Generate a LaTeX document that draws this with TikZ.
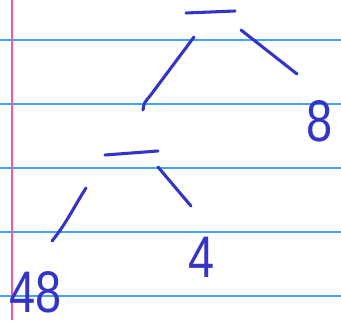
\documentclass[tikz,border=0pt]{standalone}
\usepackage{fontspec}
\setmainfont{Liberation Sans}
\definecolor{ink}{HTML}{3434C6}
\definecolor{rule}{HTML}{3FA2FF}
\definecolor{margin}{HTML}{F4579F}

\begin{document}
\begin{tikzpicture}[
			x=0.75pt, y=-0.75pt,
			ruling/.style={rule, line width=1.1pt},
			stroke/.style={ink, line width=2.3pt, line cap=round},
			digit/.style={ink, inner sep=0pt, xscale=0.8, transform shape,
				font=\fontsize{44}{44}\selectfont}
			]
			
			\useasboundingbox (0,0) rectangle (341,320);
			
			% Paper
			\foreach \y in {40,104,168,232,296}
				\draw[ruling] (0,\y) -- (341,\y);
			\draw[margin, line width=1.5pt] (12,0) -- (12,320);
			
			% Blanks
			\coordinate (topA) at (186,13);
			\coordinate (topB) at (235,11);
			\coordinate (midA) at (105,155);
			\coordinate (midB) at (158,151);
			\draw[stroke] (topA) -- (topB);
			\draw[stroke] (midA) -- (midB);
			
			% Numbers
			\node[digit] (eight) at (320,121) {8};
			\node[digit] (four) at (202,257) {4};
			\node[digit] (fortyeight) at (36,292) {48};
			
			% Branches
			\coordinate (tl1) at (194,37);
			\coordinate (tl2) at (143,110);
			\coordinate (tr1) at (241,30);
			\coordinate (tr2) at (297,74);
			\coordinate (ml1) at (86,188);
			\coordinate (ml2) at (52,241);
			\coordinate (mr1) at (158,167);
			\coordinate (mr2) at (191,206);
			\draw[stroke] (tl1) -- (150,96) .. controls (144,103) .. (tl2);
			\draw[stroke] (tr1) -- (tr2);
			\draw[stroke] (ml1) .. controls (75,205) and (66,224) .. (ml2);
			\draw[stroke] (mr1) -- (mr2);
			
		\end{tikzpicture}
\end{document}
